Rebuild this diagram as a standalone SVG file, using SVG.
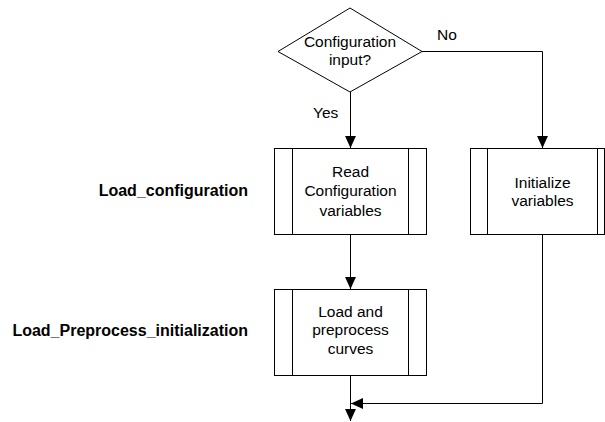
<svg xmlns="http://www.w3.org/2000/svg" width="605" height="422" viewBox="0 0 605 422">
<style>
.shape{fill:#fff;stroke:#000;stroke-width:1}
.conn{fill:none;stroke:#000;stroke-width:1}
.t{font-family:"Liberation Sans",Arial,sans-serif;font-size:15.5px;fill:#000;text-anchor:middle}
.lbl{font-family:"Liberation Sans",Arial,sans-serif;font-size:16px;font-weight:bold;fill:#000;text-anchor:end}
.lt{font-family:"Liberation Sans",Arial,sans-serif;font-size:15.5px;fill:#000}
</style>
<defs>
<marker id="arr" markerUnits="userSpaceOnUse" markerWidth="12" markerHeight="12" viewBox="0 0 11 10" refX="11" refY="5" orient="auto">
<path d="M0,0 L11,5 L0,10 Z" fill="#000"/>
</marker>
</defs>
<rect width="605" height="422" fill="#fff"/>
<g id="connectors">
<path class="conn" d="M350.5,92 V148" marker-end="url(#arr)"/>
<path class="conn" d="M422,51.5 H542.5 V148" marker-end="url(#arr)"/>
<path class="conn" d="M350.5,234 V289" marker-end="url(#arr)"/>
<path class="conn" d="M350.5,375 V421" marker-end="url(#arr)"/>
<path class="conn" d="M542.5,234 V403.5 H351" marker-end="url(#arr)"/>
<text class="lt" x="437" y="40">No</text>
<text class="lt" x="313" y="118">Yes</text>
</g>
<g id="decision">
<polygon class="shape" points="350,8 422,51.5 350,92 278,51.5"/>
<text class="t" x="350" y="46.5">Configuration</text>
<text class="t" x="350" y="65">input?</text>
</g>
<g id="read-config">
<rect class="shape" x="274.5" y="148.5" width="152" height="86"/>
<line class="conn" x1="292.5" y1="148.5" x2="292.5" y2="234.5"/>
<line class="conn" x1="408.5" y1="148.5" x2="408.5" y2="234.5"/>
<text class="t" x="350.5" y="177">Read</text>
<text class="t" x="350.5" y="196">Configuration</text>
<text class="t" x="350.5" y="215.5">variables</text>
</g>
<g id="init-vars">
<rect class="shape" x="470.5" y="148.5" width="134" height="86"/>
<line class="conn" x1="487.5" y1="148.5" x2="487.5" y2="234.5"/>
<line class="conn" x1="597.5" y1="148.5" x2="597.5" y2="234.5"/>
<text class="t" x="542.5" y="187.5">Initialize</text>
<text class="t" x="542.5" y="206">variables</text>
</g>
<g id="load-preprocess">
<rect class="shape" x="274.5" y="289.5" width="152" height="86"/>
<line class="conn" x1="292.5" y1="289.5" x2="292.5" y2="375.5"/>
<line class="conn" x1="408.5" y1="289.5" x2="408.5" y2="375.5"/>
<text class="t" x="350.5" y="316.5">Load and</text>
<text class="t" x="350.5" y="335">preprocess</text>
<text class="t" x="350.5" y="354">curves</text>
</g>
<g id="label-load-config">
<text class="lbl" x="248" y="196">Load_configuration</text>
</g>
<g id="label-load-preprocess">
<text class="lbl" x="248" y="336">Load_Preprocess_initialization</text>
</g>
</svg>
